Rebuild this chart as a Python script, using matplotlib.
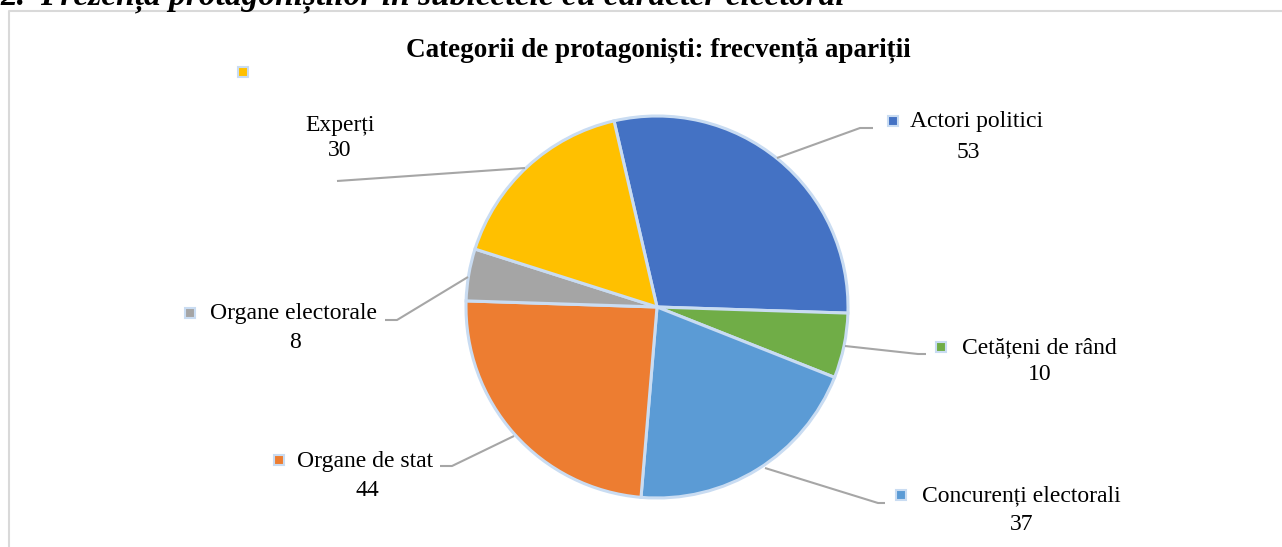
import matplotlib.pyplot as plt

plt.rcParams['font.family'] = ['Liberation Serif', 'DejaVu Serif']

# Date
categorii = ['Actori politici', 'Cetățeni de rând', 'Concurenți electorali',
             'Organe de stat', 'Organe electorale', 'Experți']
valori = [53, 10, 37, 44, 8, 30]
culori = ['#4472C4', '#70AD47', '#5B9BD5', '#ED7D31', '#A5A5A5', '#FFC000']

titlu = 'Categorii de protagoniști: frecvență apariții'
antet_nr = '2.'
antet = 'Prezența protagoniștilor în subiectele cu caracter electoral'

W, H = 1282, 547
fig = plt.figure(figsize=(W / 100, H / 100), dpi=100)
ax = fig.add_axes([0, 0, 1, 1])


def Y(y):
    # coordonate in pixeli, de sus in jos
    return H - y


cx, cy, r = 657, 307, 191
ax.pie(valori, colors=culori, startangle=103, counterclock=False,
       center=(cx, Y(cy)), radius=r,
       wedgeprops=dict(edgecolor='#c9dcf2', linewidth=2.2))
ax.set_xlim(0, W)
ax.set_ylim(0, H)
ax.set_aspect('auto')
ax.axis('off')

# linii de legatura
linii = [
    [(777, 158), (860, 128), (873, 128)],
    [(845, 346), (918, 354), (926, 354)],
    [(765, 468), (878, 503), (885, 503)],
    [(514, 436), (452, 466), (440, 466)],
    [(468, 277), (397, 320), (385, 320)],
    [(525, 168), (337, 181)],
]
for pts in linii:
    ax.plot([p[0] for p in pts], [Y(p[1]) for p in pts], color='#a6a6a6',
            lw=1.5, solid_capstyle='butt', zorder=3)

# etichete: (marker x, y), text x stanga, (valoare centru x, y)
etichete = [
    ((893, 121), 910, (968, 153)),
    ((941, 347), 962, (1040, 375)),
    ((901, 495), 922, (1022, 524)),
    ((279, 460), 297, (367, 490)),
    ((190, 313), 210, (295, 343)),
]
fs = 17
for i, ((mx, my), tx, (vx, vy)) in enumerate(etichete):
    ax.plot(mx, Y(my), marker='s', ms=7, mfc=culori[i], mec='#c9dcf2',
            mew=1.5, zorder=4)
    ax.text(tx, Y(my + 1), categorii[i], fontsize=fs, ha='left',
            va='center', color='black')
    ax.text(vx, Y(vy), str(valori[i]), fontsize=fs, ha='center',
            va='center', color='black')

# Experți: markerul e separat, mai sus
ax.text(340, Y(125), categorii[5], fontsize=fs, ha='center', va='center')
ax.text(340, Y(151), str(valori[5]), fontsize=fs, ha='center', va='center')
ax.plot(243, Y(72), marker='s', ms=7, mfc=culori[5], mec='#c9dcf2',
        mew=1.5, zorder=4)

# titlu
ax.text(658, Y(50), titlu, fontsize=19.5, fontweight='bold', ha='center',
        va='center')

# chenar
ax.plot([9, 9, W], [0, Y(11), Y(11)], color='#d9d9d9', lw=1.5)

# antet taiat sus
ax.text(0, Y(5), antet_nr, fontsize=24, fontweight='bold', fontstyle='italic',
        ha='left', va='baseline')
ax.text(40, Y(5), antet, fontsize=24, fontweight='bold', fontstyle='italic',
        ha='left', va='baseline')

fig.savefig('out.png', dpi=100)
